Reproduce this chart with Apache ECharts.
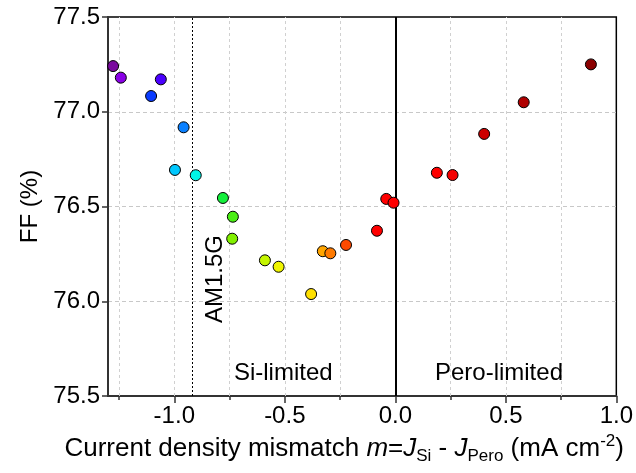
<!DOCTYPE html>
<html>
<head>
<meta charset="utf-8">
<script src="https://cdn.jsdelivr.net/npm/echarts@6/dist/echarts.min.js"></script>
<style>html,body{margin:0;padding:0;background:#fff}#c{width:636px;height:473px}</style>
</head>
<body>
<div id="c"></div>
<script>
// Data
var mismatch = [-1.277,-1.242,-1.061,-1.105,-0.958,-0.997,-0.903,-0.780,-0.735,-0.738,-0.590,-0.528,-0.381,-0.328,-0.294,-0.223,-0.083,-0.041,-0.008,0.188,0.259,0.402,0.581,0.885];
var ffValues = [77.241,77.180,77.171,77.083,76.918,76.693,76.665,76.545,76.446,76.330,76.216,76.182,76.038,76.264,76.253,76.297,76.372,76.540,76.520,76.678,76.666,76.883,77.050,77.250];
var pointColors = ['#7a0a9e','#8a00e6','#4a00ff','#0a3cff','#0a80ff','#00c8ff','#00f5e6','#14f03c','#4aef14','#82f000','#c4f500','#f0f500','#ffe000','#ffa500','#ff7a00','#ff4a00','#ff0000','#ff0000','#ff0000','#ff0000','#f50000','#cc0000','#b00000','#8b0000'];
var xMajorTicks = [-1.0,-0.5,0.0,0.5,1.0];
var xMinorTicks = [-1.25,-0.75,-0.25,0.25,0.75];
var xGridLines = [-1.25,-1.0,-0.75,-0.5,-0.25,0.25,0.5,0.75];
var xRange = [-1.3, 1.0];
var yRange = [75.5, 77.5];
var am15gLine = -0.923;
var boundaryLine = 0.0;
var annotations = [
  {text:'Si-limited', x:-0.507, y:75.621, rotate:0},
  {text:'Pero-limited', x:0.469, y:75.621, rotate:0},
  {text:'AM1.5G', x:-0.816, y:76.117, rotate:90}
];

var FONT = "'Liberation Sans', Arial, sans-serif";
var chart = echarts.init(document.getElementById('c'), null, {renderer:'canvas'});

var scatterData = mismatch.map(function(m,i){
  return {value:[m, ffValues[i]], itemStyle:{color:pointColors[i]}};
});

var option = {
  animation:false,
  backgroundColor:'#fff',
  textStyle:{fontFamily:FONT},
  grid:{left:108, right:18, top:17, bottom:77, show:true, borderColor:'#000', borderWidth:1.5, backgroundColor:'transparent'},
  xAxis:[{
    type:'value', min:xRange[0], max:xRange[1], position:'bottom',
    axisLine:{show:true, onZero:false, lineStyle:{color:'#333', width:2}},
    axisTick:{show:true, inside:false, length:7, customValues:xMajorTicks, lineStyle:{color:'#333', width:1.5}},
    axisLabel:{show:true, customValues:xMajorTicks, margin:8, fontSize:24, color:'#000', fontFamily:FONT,
      formatter:function(v){return v.toFixed(1);}},
    splitLine:{show:false},
    name:'Current density mismatch {i|m}={i|J}{sub|Si} - {i|J}{sub|Pero} (mA cm{sup|-2})',
    nameLocation:'middle', nameGap:36,
    nameTextStyle:{fontSize:26, color:'#000', fontFamily:FONT, padding:[0,36,0,0],
      rich:{
        i:{fontSize:26, fontStyle:'italic', color:'#000', fontFamily:FONT},
        sub:{fontSize:17, color:'#000', fontFamily:FONT, padding:[15,0,0,0]},
        sup:{fontSize:17, color:'#000', fontFamily:FONT, padding:[0,0,15,0]}
      }}
  },{
    type:'value', min:xRange[0], max:xRange[1], position:'bottom',
    axisLine:{show:false},
    axisTick:{show:true, inside:false, length:4, customValues:xMinorTicks, lineStyle:{color:'#333', width:1.5}},
    axisLabel:{show:false},
    splitLine:{show:false}
  }],
  yAxis:[{
    type:'value', min:yRange[0], max:yRange[1], interval:0.5,
    axisLine:{show:true, onZero:false, lineStyle:{color:'#333', width:2}},
    axisTick:{show:true, inside:false, length:6, lineStyle:{color:'#333', width:1.5}},
    axisLabel:{margin:8, fontSize:24, color:'#000', fontFamily:FONT, formatter:function(v){return v.toFixed(1);}},
    splitLine:{show:true, showMinLine:false, showMaxLine:false, lineStyle:{color:'#c8c8c8', width:1, type:[4,3]}},
    name:'FF (%)', nameLocation:'middle', nameGap:65,
    nameTextStyle:{fontSize:24, color:'#000', fontFamily:FONT}
  }],
  series:[{
    type:'line', data:[], xAxisIndex:0, yAxisIndex:0, z:1, silent:true,
    markLine:{
      z:1, silent:true, symbol:['none','none'], label:{show:false},
      lineStyle:{color:'#d0d0d0', width:1, type:[3,3]},
      data: xGridLines.map(function(v){return {xAxis:v};})
    }
  },{
    type:'line', data:[], xAxisIndex:0, yAxisIndex:0, z:3, silent:true,
    markLine:{
      z:3, silent:true, symbol:['none','none'], label:{show:false},
      data:[
        {xAxis:boundaryLine, lineStyle:{color:'#000', width:2, type:'solid'}},
        {xAxis:am15gLine, lineStyle:{color:'#000', width:1, type:[2,2]}}
      ]
    },
    markPoint:{
      z:4, silent:true, symbol:'circle', symbolSize:1,
      itemStyle:{color:'rgba(0,0,0,0)'},
      data: annotations.map(function(a){
        return {coord:[a.x,a.y], label:{show:true, position:'inside', formatter:a.text, rotate:a.rotate,
          fontSize:24, color:'#000', fontFamily:FONT}};
      })
    }
  },{
    type:'scatter', xAxisIndex:0, yAxisIndex:0, z:10,
    symbol:'circle', symbolSize:11,
    itemStyle:{borderColor:'#000', borderWidth:1, opacity:1},
    data:scatterData
  }]
};
chart.setOption(option);
</script>
</body>
</html>
